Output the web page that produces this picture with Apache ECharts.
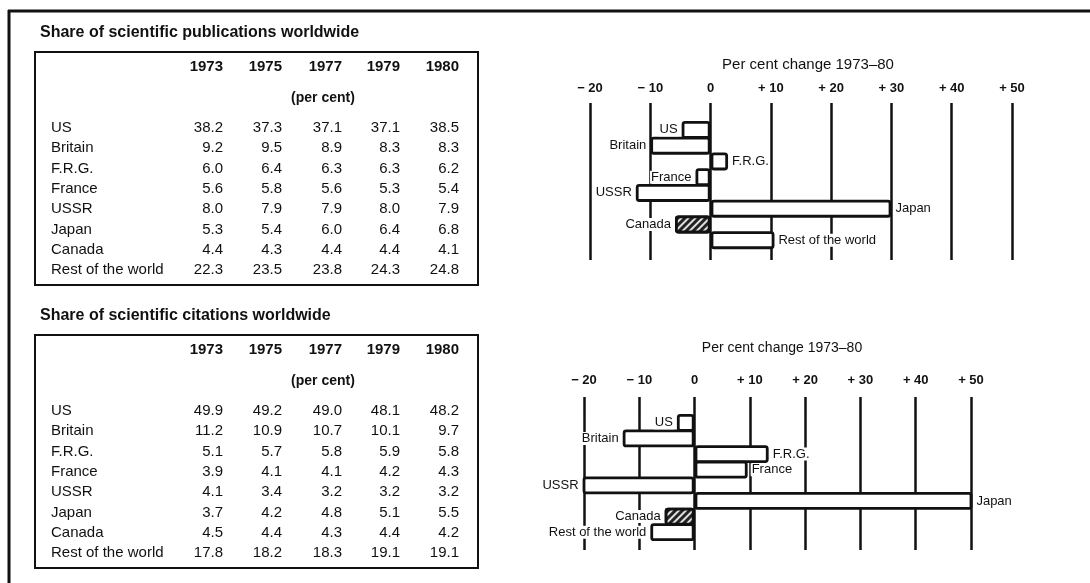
<!DOCTYPE html>
<html>
<head>
<meta charset="utf-8">
<script src="https://cdn.jsdelivr.net/npm/echarts@6/dist/echarts.min.js"></script>
<style>
  html, body { margin: 0; padding: 0; background: #ffffff; }
  #main { width: 1090px; height: 583px; }
</style>
</head>
<body>
<div id="main"></div>
<script>
// table data (per cent)
var countries = ['US', 'Britain', 'F.R.G.', 'France', 'USSR', 'Japan', 'Canada', 'Rest of the world'];
var years = ['1973', '1975', '1977', '1979', '1980'];
var pubUS = [38.2, 37.3, 37.1, 37.1, 38.5];
var pubBritain = [9.2, 9.5, 8.9, 8.3, 8.3];
var pubFRG = [6.0, 6.4, 6.3, 6.3, 6.2];
var pubFrance = [5.6, 5.8, 5.6, 5.3, 5.4];
var pubUSSR = [8.0, 7.9, 7.9, 8.0, 7.9];
var pubJapan = [5.3, 5.4, 6.0, 6.4, 6.8];
var pubCanada = [4.4, 4.3, 4.4, 4.4, 4.1];
var pubRest = [22.3, 23.5, 23.8, 24.3, 24.8];
var citUS = [49.9, 49.2, 49.0, 48.1, 48.2];
var citBritain = [11.2, 10.9, 10.7, 10.1, 9.7];
var citFRG = [5.1, 5.7, 5.8, 5.9, 5.8];
var citFrance = [3.9, 4.1, 4.1, 4.2, 4.3];
var citUSSR = [4.1, 3.4, 3.2, 3.2, 3.2];
var citJapan = [3.7, 4.2, 4.8, 5.1, 5.5];
var citCanada = [4.5, 4.4, 4.3, 4.4, 4.2];
var citRest = [17.8, 18.2, 18.3, 19.1, 19.1];

// per cent change 1973-80
var pubChange = [-4.8, -10.0, 2.9, -2.5, -12.4, 30.0, -5.9, 10.6];
var citChange = [-3.2, -13.0, 13.4, 9.6, -20.4, 53.2, -5.4, -8.0];
var changeTicks = [-20, 50, 10]; // min, max, interval

var pubRows = [pubUS, pubBritain, pubFRG, pubFrance, pubUSSR, pubJapan, pubCanada, pubRest];
var citRows = [citUS, citBritain, citFRG, citFrance, citUSSR, citJapan, citCanada, citRest];

var FONT = '"Liberation Sans", Arial, sans-serif';
var INK = '#111';

function tableGraphic(title, rows, top) {
    // top = y of the box
    var els = [];
    els.push({type: 'text', x: 40, y: top - 19,
        style: {text: title, font: 'bold 16px ' + FONT, fill: INK, verticalAlign: 'middle'}});
    els.push({type: 'rect', shape: {x: 35, y: top, width: 443, height: 233},
        style: {fill: 'none', stroke: INK, lineWidth: 2}});
    var colRight = [223, 282, 342, 400, 459];
    for (var j = 0; j < years.length; j++) {
        els.push({type: 'text', x: colRight[j], y: top + 15,
            style: {text: years[j], font: 'bold 15px ' + FONT, fill: INK, align: 'right', verticalAlign: 'middle'}});
    }
    els.push({type: 'text', x: 323, y: top + 46,
        style: {text: '(per cent)', font: 'bold 14px ' + FONT, fill: INK, align: 'center', verticalAlign: 'middle'}});
    for (var i = 0; i < countries.length; i++) {
        var y = top + 76 + i * 20.3;
        els.push({type: 'text', x: 51, y: y,
            style: {text: countries[i], font: '15px ' + FONT, fill: INK, verticalAlign: 'middle'}});
        for (var k = 0; k < rows[i].length; k++) {
            els.push({type: 'text', x: colRight[k], y: y,
                style: {text: rows[i][k].toFixed(1), font: '15px ' + FONT, fill: INK, align: 'right', verticalAlign: 'middle'}});
        }
    }
    return els;
}

function barData(values) {
    return values.map(function (v, i) {
        var item = {value: v, label: {position: v < 0 ? 'left' : 'right'}};
        if (countries[i] === 'Canada') {
            item.itemStyle = {
                color: '#222',
                decal: {symbol: 'rect', color: 'rgba(255,255,255,0.85)', dashArrayX: [1, 0], dashArrayY: [2, 3], rotation: -Math.PI / 4}
            };
        }
        return item;
    });
}

function fmtChange(v) {
    if (v < 0) return '\u2212 ' + Math.abs(v);
    if (v > 0) return '+ ' + v;
    return '0';
}

function changeAxes(gridIndex, topLen, bottomLen, margin) {
    var base = {
        gridIndex: gridIndex, type: 'value',
        min: changeTicks[0], max: changeTicks[1], interval: changeTicks[2],
        axisLine: {show: false}
    };
    var topAxis = Object.assign({}, base, {
        position: 'top',
        axisTick: {show: true, length: topLen, lineStyle: {color: INK, width: 2.5}},
        axisLabel: {show: true, margin: margin, formatter: fmtChange, color: INK, fontSize: 13, fontWeight: 'bold', fontFamily: FONT},
        splitLine: {show: true, lineStyle: {color: INK, width: 2.5}}
    });
    var bottomAxis = Object.assign({}, base, {
        position: 'bottom',
        axisTick: {show: true, length: bottomLen, lineStyle: {color: INK, width: 2.5}},
        axisLabel: {show: false},
        splitLine: {show: false}
    });
    return [topAxis, bottomAxis];
}

function changeSeries(values, xIdx, yIdx, width) {
    return {
        type: 'bar',
        xAxisIndex: xIdx,
        yAxisIndex: yIdx,
        barWidth: width,
        data: barData(values),
        itemStyle: {color: '#fff', borderColor: INK, borderWidth: 2.8, borderRadius: 2},
        label: {show: true, formatter: function (p) { return countries[p.dataIndex]; },
            color: INK, fontSize: 13, fontFamily: FONT, distance: 3,
            backgroundColor: '#fff', padding: [0, 1]},
        animation: false
    };
}

var myChart = echarts.init(document.getElementById('main'));

var option = {
    animation: false,
    textStyle: {fontFamily: FONT},
    grid: [
        {left: 590, right: 78, top: 122, height: 126},
        {left: 584, right: 119, top: 415, height: 125}
    ],
    title: [
        {text: 'Per cent change 1973\u201380', left: 803, top: 52, textAlign: 'center',
            textStyle: {fontSize: 15, fontWeight: 'normal', color: INK, fontFamily: FONT}},
        {text: 'Per cent change 1973\u201380', left: 777, top: 336, textAlign: 'center',
            textStyle: {fontSize: 14, fontWeight: 'normal', color: INK, fontFamily: FONT}}
    ],
    xAxis: changeAxes(0, 19, 12, 27).concat(changeAxes(1, 18, 10, 28)),
    yAxis: [
        {gridIndex: 0, type: 'category', inverse: true, data: countries, show: false},
        {gridIndex: 1, type: 'category', inverse: true, data: countries, show: false}
    ],
    series: [
        changeSeries(pubChange, 0, 0, 18),
        changeSeries(citChange, 2, 1, 17.8)
    ],
    graphic: [
        {type: 'line', shape: {x1: 8, y1: 11, x2: 1090, y2: 11}, style: {stroke: INK, lineWidth: 3}},
        {type: 'line', shape: {x1: 9, y1: 10, x2: 9, y2: 583}, style: {stroke: INK, lineWidth: 3}}
    ].concat(tableGraphic('Share of scientific publications worldwide', pubRows, 52))
     .concat(tableGraphic('Share of scientific citations worldwide', citRows, 335))
};

myChart.setOption(option);
</script>
</body>
</html>
